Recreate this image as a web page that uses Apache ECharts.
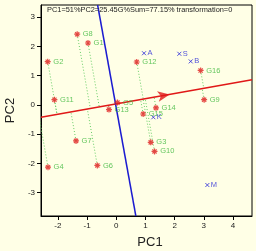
<!DOCTYPE html>
<html>
<head>
<meta charset="utf-8">
<script src="https://cdn.jsdelivr.net/npm/echarts@6/dist/echarts.min.js"></script>
<style>
  html, body { margin: 0; padding: 0; background: #ffffe6; }
  #main { width: 256px; height: 251px; }
</style>
</head>
<body>
<div id="main"></div>
<script>
// genotype points (red stars)
const gNames = ["G1", "G2", "G3", "G4", "G5", "G6", "G7", "G8", "G9", "G10", "G11", "G12", "G13", "G14", "G15", "G16"];
const gX = [-0.97, -2.35, 1.18, -2.34, 0.04, -0.65, -1.38, -1.34, 3.01, 1.31, -2.12, 0.70, -0.25, 1.36, 0.92, 2.89];
const gY = [2.12, 1.48, -1.28, -2.13, 0.08, -2.07, -1.23, 2.42, 0.18, -1.59, 0.18, 1.47, -0.16, -0.10, -0.31, 1.18];

// environment points (blue crosses)
const eNames = ["A", "S", "B", "K", "M"];
const eX = [0.95, 2.16, 2.55, 1.27, 3.12];
const eY = [1.77, 1.75, 1.49, -0.42, -2.74];

// average environment axis (red) and its perpendicular (blue)
const redLine = [[-2.58, -0.42], [4.65, 0.86]];
const blueLine = [[-0.64, 3.42], [0.67, -3.8]];
const arrowT = 0.61; // arrow position along red line

const xTicks = [-2, -1, 0, 1, 2, 3, 4];
const yTicks = [-3, -2, -1, 0, 1, 2, 3];

const titleText = "PC1=51%PC2=25.45G%Sum=77.15% transformation=0";

// projection of each genotype onto red line
const p0 = redLine[0], p1 = redLine[1];
const dx = p1[0] - p0[0], dy = p1[1] - p0[1];
const len2 = dx * dx + dy * dy;
const projLines = [];
gX.forEach((x, i) => {
  const t = ((x - p0[0]) * dx + (gY[i] - p0[1]) * dy) / len2;
  projLines.push([x, gY[i]], [p0[0] + t * dx, p0[1] + t * dy], null);
});
const arrowPt = [p0[0] + arrowT * dx, p0[1] + arrowT * dy];

const star = "path://M0,5L10,5M5,0L5,10M1.5,1.5L8.5,8.5M8.5,1.5L1.5,8.5";
const cross = "path://M0,0L10,10M10,0L0,10";
const font = "Liberation Sans, Arial, sans-serif";

const myChart = echarts.init(document.getElementById("main"));
myChart.setOption({
  backgroundColor: "#ffffe6",
  animation: false,
  title: {
    text: titleText,
    left: 47,
    top: 6,
    padding: 0,
    textStyle: { fontSize: 7.4, fontWeight: "normal", color: "#222", fontFamily: font }
  },
  grid: {
    left: 41,
    right: 4,
    top: 5,
    bottom: 35,
    outerBoundsMode: "none",
    containLabel: false,
    show: true,
    borderColor: "#000",
    borderWidth: 1,
    backgroundColor: "transparent"
  },
  xAxis: {
    type: "value",
    min: -2.58,
    max: 4.65,
    name: "PC1",
    nameLocation: "middle",
    nameGap: 20,
    nameTextStyle: { fontSize: 13, color: "#222", fontFamily: font, padding: [0, 0, 0, 7] },
    axisLine: { onZero: false, lineStyle: { color: "#000", width: 1 } },
    axisTick: { show: true, length: 4, customValues: xTicks, lineStyle: { color: "#000" } },
    axisLabel: { customValues: xTicks, fontSize: 8, color: "#222", margin: 6, fontFamily: font },
    splitLine: { show: false }
  },
  yAxis: {
    type: "value",
    min: -3.8,
    max: 3.42,
    name: "PC2",
    nameLocation: "middle",
    nameGap: 22,
    nameTextStyle: { fontSize: 13, color: "#222", fontFamily: font },
    axisLine: { onZero: false, lineStyle: { color: "#000", width: 1 } },
    axisTick: { show: true, length: 4, customValues: yTicks, lineStyle: { color: "#000" } },
    axisLabel: { customValues: yTicks, fontSize: 8, color: "#222", margin: 6, fontFamily: font },
    splitLine: { show: false }
  },
  series: [
    {
      type: "line",
      data: projLines,
      symbol: "none",
      connectNulls: false,
      lineStyle: { color: "#66cc66", width: 1, type: [1, 2] },
      z: 1
    },
    {
      type: "line",
      data: redLine,
      symbol: "none",
      lineStyle: { color: "#e01818", width: 1.5 },
      z: 2
    },
    {
      type: "line",
      data: blueLine,
      symbol: "none",
      lineStyle: { color: "#1c1cd0", width: 1.5 },
      z: 2
    },
    {
      type: "scatter",
      data: [arrowPt],
      symbol: "arrow",
      symbolSize: [8, 12],
      symbolRotate: -80,
      itemStyle: { color: "#e01818" },
      z: 3
    },
    {
      type: "scatter",
      data: gX.map((x, i) => ({ name: gNames[i], value: [x, gY[i]] })),
      symbol: star,
      symbolSize: 6,
      itemStyle: { color: "transparent", borderColor: "#e02020", borderWidth: 1.2 },
      label: {
        show: true,
        position: "right",
        distance: 2,
        formatter: "{b}",
        fontSize: 7.5,
        color: "#3cb83c",
        fontFamily: font
      },
      z: 4
    },
    {
      type: "scatter",
      data: eX.map((x, i) => ({ name: eNames[i], value: [x, eY[i]] })),
      symbol: cross,
      symbolSize: 4,
      itemStyle: { color: "transparent", borderColor: "#2828d8", borderWidth: 1 },
      label: {
        show: true,
        position: "right",
        distance: 1,
        formatter: "{b}",
        fontSize: 7.5,
        color: "#2828d8",
        fontFamily: font
      },
      z: 4
    }
  ]
});
</script>
</body>
</html>
